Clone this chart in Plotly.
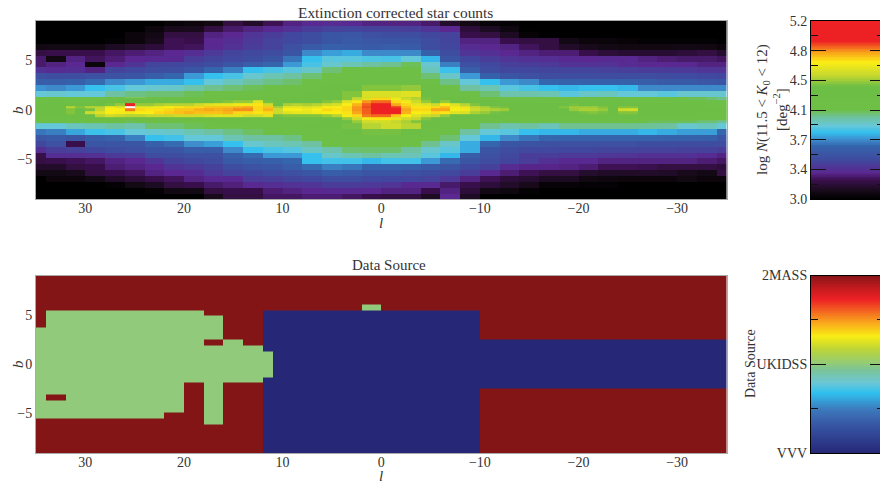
import numpy as np
import plotly.graph_objects as go

W, H = 880, 484
l_edges = [35] + list(range(34, -35, -2)) + [-35]
b_edges = [9, 8.5, 7.9, 7.3, 6.7, 6.1, 5.5, 4.9, 4.3, 3.7, 3.1, 2.5, 1.9, 1.3,
           -1.3, -1.9, -2.5, -3.1, -3.7, -4.3, -4.9, -5.5, -6.1, -6.7, -7.3, -7.9, -8.5, -9]
l_fine = list(range(35, -36, -1))
b_fine = [1.3, 1.01, 0.72, 0.43, 0.14, -0.14, -0.43, -0.72, -1.01, -1.3]
l_source = [35] + list(range(34, 11, -2)) + [11, 10] + list(range(8, -35, -2)) + [-35]

counts_upper = [
 [3,3,3,3,3,3,3,3.03,3.05,3.07,3.2,3.14,3.24,3.3,3.33,3.34,3.33,3.3,3.3,3.3,3.27,3.15,3.08,3.03,3.02,3,3,3,3,3,3,3,3,3,3,3],
 [3,3,3,3,3,3,3.05,3.1,3.1,3.2,3.27,3.3,3.33,3.37,3.42,3.45,3.46,3.44,3.44,3.43,3.38,3.32,3.18,3.12,3.06,3.01,3,3,3,3,3,3,3,3,3,3],
 [3,3,3,3,3,3.05,3.08,3.2,3.2,3.3,3.32,3.38,3.42,3.47,3.5,3.55,3.56,3.52,3.5,3.5,3.47,3.45,3.22,3.2,3.12,3.03,3.01,3,3,3,3,3,3,3,3,3],
 [3,3,3,3,3.02,3.05,3.1,3.24,3.22,3.32,3.35,3.4,3.45,3.48,3.5,3.55,3.58,3.56,3.55,3.55,3.5,3.46,3.3,3.3,3.22,3.2,3.2,3.08,3.05,3.04,3.03,3.02,3.02,3.02,3.02,3.01],
 [3.07,3.08,3.08,3.07,3.12,3.15,3.18,3.24,3.25,3.33,3.37,3.42,3.45,3.52,3.58,3.62,3.6,3.58,3.6,3.58,3.5,3.47,3.34,3.32,3.3,3.25,3.2,3.14,3.1,3.08,3.07,3.07,3.07,3.08,3.07,3.05],
 [3.2,3.22,3.22,3.22,3.26,3.28,3.3,3.32,3.35,3.4,3.46,3.48,3.5,3.55,3.72,3.76,3.78,3.72,3.72,3.72,3.62,3.5,3.38,3.36,3.32,3.3,3.28,3.28,3.22,3.18,3.16,3.16,3.16,3.18,3.2,3.15],
 [3.27,3.07,3.3,3.25,3.28,3.32,3.33,3.33,3.42,3.46,3.48,3.5,3.55,3.68,3.82,3.88,3.88,3.86,3.85,3.9,3.8,3.55,3.47,3.42,3.38,3.36,3.35,3.33,3.32,3.33,3.33,3.3,3.28,3.27,3.27,3.25],
 [3.27,3.3,3.32,3.05,3.32,3.38,3.46,3.47,3.48,3.5,3.55,3.6,3.65,3.75,3.85,3.92,3.97,4,4.02,4.08,3.92,3.7,3.52,3.48,3.43,3.42,3.4,3.37,3.37,3.37,3.34,3.32,3.32,3.32,3.3,3.3],
 [3.36,3.34,3.35,3.3,3.46,3.48,3.5,3.5,3.55,3.65,3.7,3.82,3.85,3.88,3.93,4.05,4.12,4.12,4.12,4.15,3.95,3.83,3.6,3.5,3.47,3.47,3.46,3.46,3.46,3.44,3.43,3.42,3.41,3.4,3.38,3.38],
 [3.52,3.5,3.5,3.52,3.53,3.55,3.6,3.65,3.75,3.82,3.85,3.92,3.97,4,4.05,4.12,4.15,4.17,4.17,4.18,4.05,3.93,3.75,3.62,3.55,3.52,3.5,3.5,3.5,3.5,3.5,3.5,3.49,3.49,3.48,3.47],
 [3.6,3.6,3.62,3.66,3.72,3.75,3.78,3.78,3.82,3.9,3.95,4,4.03,4.06,4.1,4.18,4.2,4.22,4.22,4.22,4.15,4.03,3.9,3.82,3.75,3.72,3.65,3.63,3.62,3.62,3.62,3.6,3.58,3.58,3.56,3.55],
 [3.74,3.72,3.75,3.82,3.85,3.9,3.92,3.93,3.98,4.02,4.05,4.08,4.1,4.15,4.2,4.25,4.3,4.42,4.42,4.44,4.25,4.2,4,3.97,3.88,3.85,3.82,3.8,3.82,3.82,3.8,3.72,3.72,3.72,3.72,3.72],
 [3.9,3.92,3.9,3.9,4,4.03,4.05,4.05,4.08,4.12,4.15,4.15,4.2,4.2,4.25,4.3,4.42,4.58,4.58,4.6,4.35,4.22,4.1,4.05,3.98,3.98,3.97,3.88,3.93,3.95,3.9,3.9,3.88,3.92,3.92,3.92],
]
# under the finer plane cells; the empty cell is the blank spot near l = 25
counts_middle = [4.2,4.2,4.2,4.2,4.2,None,4.2,4.2,4.2,4.2,4.2,4.2,4.2,4.2,4.2,4.2,4.2,4.2,4.2,4.2,4.2,4.2,4.2,4.2,4.2,4.2,4.2,4.2,4.2,4.2,4.2,4.2,4.2,4.2,4.2,4.2]
counts_lower = [
 [3.9,3.9,3.95,3.97,4,3.98,4.05,4.05,4.08,4.1,4.12,4.15,4.2,4.2,4.25,4.3,4.4,4.5,4.55,4.5,4.25,4.2,4.1,4.02,3.98,4,3.96,4.02,4.02,4.02,4.02,4.01,4,3.92,3.95,3.9],
 [3.68,3.7,3.77,3.83,3.85,3.9,3.92,3.93,3.97,4,4.03,4.07,4.1,4.1,4.15,4.2,4.25,4.4,4.4,4.3,4.2,4.15,4,3.9,3.88,3.82,3.8,3.8,3.78,3.78,3.78,3.8,3.78,3.76,3.76,3.65],
 [3.56,3.58,3.55,3.6,3.64,3.7,3.82,3.84,3.9,3.9,3.97,4,4,4.03,4.1,4.15,4.2,4.22,4.22,4.2,4.12,4.05,3.9,3.8,3.72,3.68,3.65,3.64,3.64,3.64,3.64,3.64,3.63,3.63,3.62,3.55],
 [3.47,3.52,3.22,3.55,3.55,3.55,3.62,3.66,3.73,3.76,3.82,3.92,3.95,3.97,4,4.1,4.15,4.18,4.18,4.15,4.02,3.93,3.78,3.65,3.55,3.53,3.52,3.52,3.52,3.52,3.52,3.51,3.51,3.5,3.5,3.5],
 [3.35,3.42,3.44,3.47,3.5,3.52,3.55,3.55,3.6,3.6,3.72,3.82,3.85,3.87,3.94,3.98,4.05,4.06,4.06,4,3.92,3.88,3.78,3.55,3.5,3.48,3.48,3.47,3.47,3.46,3.46,3.45,3.45,3.44,3.44,3.42],
 [3.22,3.35,3.35,3.36,3.4,3.42,3.5,3.5,3.52,3.52,3.62,3.66,3.75,3.75,3.82,3.93,3.97,4,3.97,3.96,3.88,3.8,3.6,3.52,3.48,3.42,3.42,3.4,3.4,3.39,3.38,3.36,3.36,3.36,3.34,3.3],
 [3.2,3.22,3.24,3.26,3.3,3.32,3.38,3.44,3.48,3.5,3.58,3.6,3.62,3.65,3.82,3.84,3.84,3.8,3.84,3.84,3.75,3.66,3.55,3.5,3.46,3.42,3.36,3.33,3.33,3.3,3.3,3.3,3.3,3.3,3.28,3.26],
 [3.14,3.14,3.2,3.22,3.28,3.3,3.32,3.38,3.4,3.44,3.5,3.54,3.56,3.6,3.66,3.7,3.68,3.63,3.63,3.62,3.58,3.55,3.48,3.44,3.34,3.31,3.31,3.3,3.28,3.24,3.24,3.23,3.2,3.2,3.2,3.18],
 [3.08,3.08,3.1,3.2,3.22,3.25,3.3,3.32,3.34,3.4,3.45,3.47,3.5,3.52,3.55,3.6,3.58,3.55,3.55,3.52,3.5,3.48,3.42,3.33,3.28,3.24,3.2,3.2,3.15,3.13,3.13,3.14,3.13,3.1,3.08,3.2],
 [3,3.05,3.05,3.08,3.14,3.18,3.22,3.25,3.3,3.33,3.33,3.42,3.43,3.46,3.47,3.5,3.5,3.48,3.47,3.47,3.45,3.4,3.3,3.24,3.18,3.16,3.12,3.12,3.07,3.06,3.05,3.05,3.05,3.07,3.05,3.05],
 [3,3,3,3,3.02,3.08,3.12,3.2,3.22,3.27,3.29,3.33,3.35,3.37,3.38,3.42,3.42,3.4,3.38,3.33,3.33,3.27,3.22,3.18,3.14,3.1,3.03,3.03,3.02,3.02,3,3,3,3,3,3],
 [3,3,3,3,3,3,3.02,3.07,3.08,3.2,3.22,3.22,3.28,3.3,3.32,3.33,3.33,3.32,3.3,3.3,3.22,3.3,3.18,3.08,3.06,3.02,3,3,3,3,3,3,3,3,3,3],
 [3,3,3,3,3,3,3,3,3,3.1,3.2,3.2,3.26,3.26,3.28,3.28,3.26,3.22,3.2,3.2,3.12,3.32,3.12,3,3,3,3,3,3,3,3,3,3,3,3,3],
]
counts_plane = [
 [4.15,4.15,4.15,4.15,4.15,4.15,4.18,4.18,4.18,4.18,4.2,4.2,4.2,4.2,4.2,4.2,4.22,4.22,4.22,4.25,4.25,4.25,4.3,4.3,4.3,4.3,4.28,4.28,4.3,4.3,4.35,4.42,4.52,4.6,4.72,4.72,4.65,4.55,4.5,4.4,4.3,4.3,4.25,4.25,4.22,4.2,4.18,4.15,4.12,4.12,4.1,4.1,4.1,4.1,4.1,4.1,4.1,4.1,4.1,4.1,4.1,4.1,4.1,4.1,4.1,4.1,4.08,4.08,4.05,4.02],
 [4.2,4.2,4.2,4.22,4.22,4.22,4.25,4.25,4.3,4.35,4.3,4.3,4.3,4.3,4.3,4.3,4.32,4.35,4.4,4.42,4.45,4.45,4.6,4.4,4.35,4.35,4.35,4.35,4.38,4.42,4.45,4.6,4.7,4.82,4.87,4.87,4.72,4.66,4.55,4.45,4.35,4.45,4.35,4.3,4.3,4.28,4.25,4.22,4.2,4.2,4.2,4.2,4.2,4.22,4.22,4.2,4.2,4.2,4.2,4.2,4.2,4.2,4.2,4.2,4.2,4.2,4.18,4.18,4.15,4.12],
 [4.25,4.25,4.28,4.3,4.3,4.3,4.32,4.4,4.45,5.0,4.45,4.45,4.48,4.5,4.5,4.5,4.55,4.6,4.62,4.62,4.65,4.65,4.7,4.55,4.38,4.48,4.5,4.48,4.5,4.55,4.58,4.68,4.78,4.88,5.0,5.0,4.8,4.72,4.62,4.6,4.55,4.68,4.6,4.5,4.42,4.38,4.3,4.32,4.28,4.28,4.28,4.3,4.32,4.36,4.4,4.38,4.36,4.35,4.3,4.3,4.3,4.3,4.28,4.28,4.25,4.25,4.25,4.25,4.2,4.18],
 [4.3,4.3,4.38,4.5,4.42,4.5,4.5,4.65,4.6,None,4.62,4.62,4.65,4.68,4.7,4.72,4.72,4.75,4.76,4.76,4.78,4.8,4.72,4.75,4.48,4.62,4.62,4.6,4.62,4.68,4.68,4.72,4.82,4.9,5.05,5.05,4.92,4.76,4.7,4.7,4.72,4.76,4.66,4.62,4.52,4.48,4.42,4.4,4.35,4.32,4.32,4.32,4.36,4.42,4.46,4.46,4.46,4.42,4.35,4.42,4.42,4.35,4.3,4.28,4.28,4.28,4.28,4.25,4.22,4.22],
 [4.3,4.3,4.38,4.42,4.35,4.4,4.52,4.68,4.68,4.85,4.72,4.7,4.7,4.72,4.75,4.75,4.78,4.8,4.78,4.8,4.83,4.83,4.72,4.78,4.55,4.68,4.68,4.64,4.68,4.72,4.7,4.72,4.82,4.88,5.1,5.1,4.95,4.8,4.72,4.72,4.8,4.8,4.68,4.66,4.55,4.5,4.48,4.46,4.38,4.35,4.38,4.35,4.3,4.35,4.45,4.48,4.48,4.45,4.35,4.55,4.56,4.38,4.3,4.3,4.28,4.28,4.28,4.26,4.25,4.25],
 [4.28,4.28,4.35,4.42,4.38,4.55,4.6,4.68,4.66,4.65,4.68,4.68,4.72,4.74,4.76,4.78,4.76,4.76,4.76,4.78,4.72,4.72,4.7,4.72,4.55,4.6,4.62,4.62,4.65,4.68,4.68,4.7,4.8,4.88,5.05,5.05,4.95,4.78,4.68,4.66,4.72,4.7,4.6,4.58,4.48,4.45,4.4,4.38,4.35,4.3,4.3,4.3,4.32,4.35,4.38,4.4,4.42,4.4,4.35,4.42,4.42,4.3,4.28,4.28,4.25,4.25,4.25,4.22,4.22,4.2],
 [4.25,4.25,4.28,4.3,4.3,4.38,4.5,4.55,4.52,4.5,4.5,4.52,4.52,4.52,4.55,4.55,4.55,4.58,4.6,4.6,4.6,4.55,4.55,4.6,4.4,4.42,4.42,4.42,4.42,4.45,4.5,4.66,4.72,4.85,4.87,4.87,4.75,4.68,4.6,4.55,4.52,4.45,4.38,4.35,4.32,4.3,4.28,4.25,4.25,4.25,4.25,4.25,4.25,4.28,4.28,4.28,4.3,4.3,4.28,4.28,4.28,4.25,4.22,4.2,4.2,4.2,4.2,4.18,4.18,4.15],
 [4.2,4.2,4.2,4.2,4.22,4.25,4.3,4.32,4.3,4.25,4.25,4.28,4.3,4.3,4.3,4.3,4.3,4.32,4.35,4.35,4.35,4.32,4.32,4.32,4.28,4.28,4.28,4.28,4.28,4.3,4.35,4.45,4.55,4.66,4.7,4.7,4.62,4.55,4.52,4.42,4.35,4.3,4.28,4.25,4.22,4.2,4.2,4.18,4.18,4.18,4.18,4.18,4.18,4.18,4.18,4.18,4.2,4.2,4.2,4.2,4.18,4.18,4.15,4.15,4.15,4.15,4.15,4.12,4.12,4.1],
 [4.15,4.15,4.15,4.15,4.15,4.15,4.15,4.18,4.18,4.08,4.12,4.15,4.18,4.2,4.2,4.2,4.22,4.22,4.25,4.25,4.25,4.22,4.22,4.22,4.2,4.2,4.2,4.2,4.2,4.25,4.3,4.38,4.45,4.55,4.56,4.56,4.52,4.48,4.42,4.35,4.28,4.22,4.2,4.18,4.15,4.12,4.1,4.1,4.1,4.1,4.1,4.1,4.1,4.1,4.1,4.1,4.1,4.1,4.1,4.1,4.1,4.1,4.08,4.08,4.08,4.08,4.08,4.05,4.05,4.02],
]
# 0 = VVV, 1 = UKIDSS, 2 = 2MASS; one digit per cell of l_source
source_rows = [
 "2222222222222222222222222222222222222",
 "2222222222222222222222222222222222222",
 "2222222222222222222222222222222222222",
 "2222222222222222222222222222222222222",
 "2222222222222222222222222222222222222",
 "2222222222222222221222222222222222222",
 "2111111112220000000000002222222222222",
 "2111111111220000000000002222222222222",
 "2111111111220000000000002222222222222",
 "1111111111220000000000002222222222222",
 "1111111111220000000000002222222222222",
 "1111111112120000000000000000000000000",
 "1111111111110000000000000000000000000",
 "1111111111111000000000000000000000000",
 "1111111111110000000000000000000000000",
 "1111111121220000000000000000000000000",
 "1111111121220000000000002222222222222",
 "1211111121220000000000002222222222222",
 "1111111121220000000000002222222222222",
 "1111111121220000000000002222222222222",
 "1111111221220000000000002222222222222",
 "2222222221220000000000002222222222222",
 "2222222222220000000000002222222222222",
 "2222222222220000000000002222222222222",
 "2222222222220000000000002222222222222",
 "2222222222220000000000002222222222222",
 "2222222222220000000000002222222222222",
]
l_ticks = [30, 20, 10, 0, -10, -20, -30]
b_ticks = [5, 0, -5]
count_ticks = [3.0, 3.367, 3.733, 4.1, 4.467, 4.833, 5.2]
count_labels = ["3.0", "3.4", "3.7", "4.1", "4.5", "4.8", "5.2"]
count_minor = [3.183, 3.55, 3.917, 4.283, 4.65, 5.017]
source_ticks = [0, 1, 2]
source_labels = ["VVV", "UKIDSS", "2MASS"]
source_minor = [0.5, 1.5]

stops_counts = [(0, "#000000"), (.04, "#150a16"), (.107, "#3c1050"), (.145, "#5a2890"), (.22, "#3f4a9f"),
                (.295, "#3565ad"), (.333, "#3e8fcf"), (.37, "#33bfee"), (.41, "#66c8d8"), (.455, "#6fc2a0"),
                (.5, "#6dbf45"), (.63, "#6dbe45"), (.69, "#c4d72f"), (.765, "#fbed15"), (.82, "#f9a51a"),
                (.885, "#ed2024"), (1, "#ed2024")]
stops_source = [(0, "#262877"), (.15, "#3653a3"), (.244, "#3d78bb"), (.338, "#2fc0ef"), (.395, "#6cc7d6"),
                (.47, "#7cc496"), (.5, "#90ca7a"), (.583, "#bcd537"), (.658, "#f9ec14"), (.733, "#f9a61c"),
                (.865, "#ed2024"), (.93, "#c01a1e"), (1, "#841517")]

INK = "#333333"
FONT = "Liberation Serif"
def fx(p): return p / W
def fy(p): return 1 - p / H

fig = go.Figure()
counts = counts_upper + [counts_middle] + counts_lower
fig.add_trace(go.Heatmap(x=l_edges, y=b_edges, z=counts, zmin=3, zmax=5.2, colorscale=stops_counts,
                         showscale=False, hoverongaps=False, xaxis="x", yaxis="y"))
fig.add_trace(go.Heatmap(x=l_fine, y=b_fine, z=counts_plane, zmin=3, zmax=5.2, colorscale=stops_counts,
                         showscale=False, hoverongaps=False, xaxis="x", yaxis="y"))
source = [[int(c) for c in row] for row in source_rows]
fig.add_trace(go.Heatmap(x=l_source, y=b_edges, z=source, zmin=0, zmax=2, colorscale=stops_source,
                         showscale=False, xaxis="x2", yaxis="y2"))
ramp1 = np.linspace(3, 5.2, 240)
ramp2 = np.linspace(0, 2, 240)
fig.add_trace(go.Heatmap(x=[0, 1], y=ramp1, z=[[v] for v in ramp1][:-1], zmin=3, zmax=5.2,
                         colorscale=stops_counts, showscale=False, xaxis="x3", yaxis="y3"))
fig.add_trace(go.Heatmap(x=[0, 1], y=ramp2, z=[[v] for v in ramp2][:-1], zmin=0, zmax=2,
                         colorscale=stops_source, showscale=False, xaxis="x4", yaxis="y4"))
fig.add_trace(go.Scatter(x=[0], y=[3], mode="markers", marker=dict(opacity=0), xaxis="x3", yaxis="y5",
                         showlegend=False, hoverinfo="skip"))
fig.add_trace(go.Scatter(x=[0], y=[0], mode="markers", marker=dict(opacity=0), xaxis="x4", yaxis="y6",
                         showlegend=False, hoverinfo="skip"))

tf = dict(family=FONT, size=14, color=INK)
def lax(dom):
    return dict(domain=dom, range=[35, -35], automargin=False, tickmode="array", tickvals=l_ticks,
                ticktext=[str(v).replace("-", "\u2212") for v in l_ticks], ticks="", tickfont=tf, ticklabelstandoff=-4,
                showgrid=False, zeroline=False, showline=True, linecolor="#aaaaaa", linewidth=1, mirror=True)
def bax(dom, anchor):
    return dict(domain=dom, range=[-9, 9], automargin=False, anchor=anchor, tickmode="array", tickvals=b_ticks,
                ticktext=[str(v).replace("-", "\u2212") for v in b_ticks], ticks="", tickfont=tf,
                showgrid=False, zeroline=False, showline=True, linecolor="#aaaaaa", linewidth=1, mirror=True)
xd = [fx(36), fx(726.5)]
y1 = [fy(199), fy(21)]
y2 = [fy(453), fy(275.5)]
cx = [fx(811), 1]
def cbx(anchor):
    return dict(domain=cx, range=[0, 1], automargin=False, anchor=anchor, showticklabels=False, ticks="", showgrid=False,
                zeroline=False, showline=True, linecolor="black", linewidth=1, mirror=True)
def cby(dom, anchor, rng, vals, text, minor):
    return dict(domain=dom, range=rng, automargin=False, anchor=anchor, tickmode="array", tickvals=vals, ticktext=text,
                ticks="inside", ticklen=15, tickwidth=1, tickcolor="#111111", tickfont=tf, showgrid=False,
                zeroline=False, showline=True, linecolor="black", linewidth=1,
                minor=dict(tickmode="array", tickvals=minor, ticks="inside", ticklen=7, tickwidth=1, tickcolor="#111111"))
def cbr(over, rng, vals, minor):
    return dict(overlaying=over, side="right", anchor="free", position=1, automargin=False, range=rng, tickmode="array", tickvals=vals,
                showticklabels=False, ticks="inside", ticklen=10, tickwidth=1, tickcolor="#111111",
                showgrid=False, zeroline=False, showline=False,
                minor=dict(tickmode="array", tickvals=minor, ticks="inside", ticklen=3, tickwidth=1, tickcolor="#111111"))

ann = [
 dict(text="Extinction corrected star counts", x=fx(395), y=fy(12), font=dict(family=FONT, size=15.4, color=INK)),
 dict(text="Data Source", x=fx(389), y=fy(265), font=dict(family=FONT, size=15, color=INK)),
 dict(text="log <i>N</i>(11.5 &lt; <i>K</i><sub>0</sub> &lt; 12)<br>[deg<sup>\u22122</sup>]", x=fx(772), y=fy(110),
      textangle=-90, font=dict(family=FONT, size=15, color=INK)),
 dict(text="Data Source", x=fx(750), y=fy(364), textangle=-90, font=dict(family=FONT, size=14, color=INK)),
 dict(text="<i>l</i>", x=fx(381), y=fy(223), font=dict(family=FONT, size=15, color=INK)),
 dict(text="<i>l</i>", x=fx(381), y=fy(476), font=dict(family=FONT, size=15, color=INK)),
 dict(text="<i>b</i>", x=fx(18), y=fy(110), textangle=-90, font=dict(family=FONT, size=15, color=INK)),
 dict(text="<i>b</i>", x=fx(18), y=fy(364), textangle=-90, font=dict(family=FONT, size=15, color=INK)),
]
for a in ann:
    a.update(xref="paper", yref="paper", showarrow=False, xanchor="center", yanchor="middle")

fig.update_layout(
    width=W, height=H, margin=dict(l=0, r=0, t=0, b=0), paper_bgcolor="white", plot_bgcolor="white",
    showlegend=False, annotations=ann,
    xaxis=dict(lax(xd), anchor="y"), yaxis=bax(y1, "x"),
    xaxis2=dict(lax(xd), anchor="y2"), yaxis2=bax(y2, "x2"),
    xaxis3=cbx("y3"), yaxis3=cby(y1, "x3", [3, 5.2], count_ticks, count_labels, count_minor),
    xaxis4=cbx("y4"), yaxis4=cby(y2, "x4", [0, 2], source_ticks, source_labels, source_minor),
    yaxis5=cbr("y3", [3, 5.2], count_ticks, count_minor),
    yaxis6=cbr("y4", [0, 2], source_ticks, source_minor),
)
fig.write_html("out.html", config={"displayModeBar": False},
               post_script="document.body.style.margin='0';document.documentElement.style.overflow='hidden';")
